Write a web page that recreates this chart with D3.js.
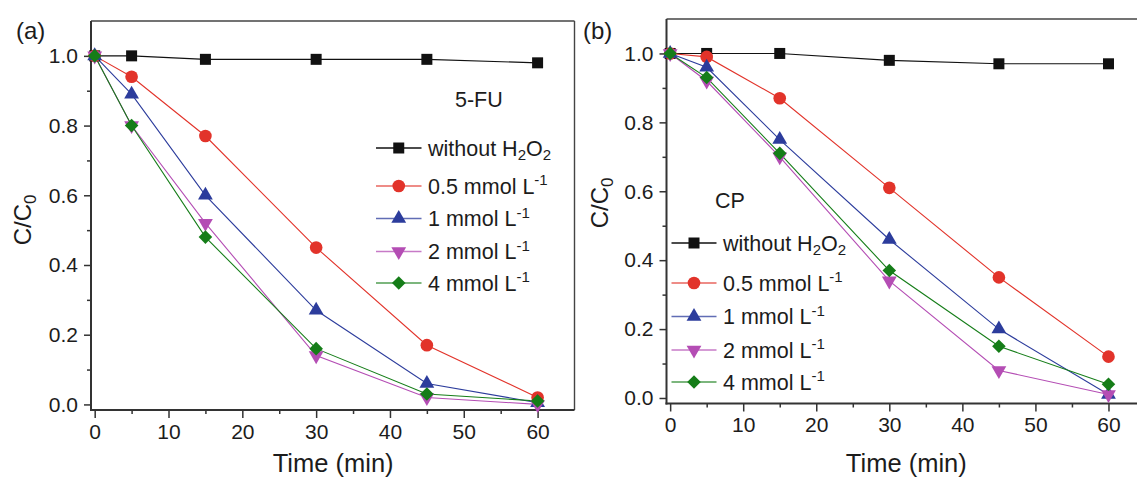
<!DOCTYPE html>
<html>
<head>
<meta charset="utf-8">
<script src="https://cdn.jsdelivr.net/npm/d3@7"></script>
<style>
  body { margin: 0; background: #fff; }
  text { font-family: "Liberation Sans", Arial, sans-serif; fill: #1c1c1c; }
</style>
</head>
<body>
<script>
// datos
const times = [0, 5, 15, 30, 45, 60];

// (a) 5-FU
const fuWithout = [1.0, 1.0, 0.99, 0.99, 0.99, 0.98];
const fu05 = [1.0, 0.94, 0.77, 0.45, 0.17, 0.02];
const fu1 = [1.0, 0.89, 0.60, 0.27, 0.06, 0.005];
const fu2 = [1.0, 0.80, 0.52, 0.14, 0.02, 0.0];
const fu4 = [1.0, 0.80, 0.48, 0.16, 0.03, 0.01];

// (b) CP
const cpWithout = [1.0, 1.0, 1.0, 0.98, 0.97, 0.97];
const cp05 = [1.0, 0.99, 0.87, 0.61, 0.35, 0.12];
const cp1 = [1.0, 0.96, 0.75, 0.46, 0.20, 0.01];
const cp2 = [1.0, 0.92, 0.70, 0.34, 0.08, 0.01];
const cp4 = [1.0, 0.93, 0.71, 0.37, 0.15, 0.04];

// leyenda: trozos de texto [texto, tipo]
const legendLabels = [
  [["without H", ""], ["2", "sub"], ["O", ""], ["2", "sub"]],
  [["0.5 mmol L", ""], ["-1", "sup"]],
  [["1 mmol L", ""], ["-1", "sup"]],
  [["2 mmol L", ""], ["-1", "sup"]],
  [["4 mmol L", ""], ["-1", "sup"]]
];

const xMajor = [0, 10, 20, 30, 40, 50, 60];
const xMinor = [5, 15, 25, 35, 45, 55];
const yMajor = [0, 0.2, 0.4, 0.6, 0.8, 1.0];
const yMinor = [0.1, 0.3, 0.5, 0.7, 0.9];

const colors = ["#111111", "#e2332a", "#2c3c9c", "#b44db4", "#157d18"];
const W = 1137, H = 480;

const svg = d3.select("body").append("svg")
  .attr("width", W)
  .attr("height", H);

// simbolos
function markerPath(i) {
  if (i === 0) return d3.symbol(d3.symbolSquare, 121)();
  if (i === 1) return d3.symbol(d3.symbolCircle, 125)();
  if (i === 2) return d3.symbol(d3.symbolTriangle, 95)();
  if (i === 3) return d3.symbol(d3.symbolTriangle, 95)();
  return d3.symbol(d3.symbolSquare, 92)();
}
function markerRotate(i) {
  if (i === 3) return " rotate(180)";
  if (i === 4) return " rotate(45)";
  return "";
}

function addRich(sel, parts) {
  parts.forEach((p, k) => {
    const t = sel.append("tspan").text(p[0]);
    if (p[1] === "sub") t.attr("font-size", "70%").attr("dy", "0.32em");
    if (p[1] === "sup") t.attr("font-size", "70%").attr("dy", "-0.55em");
    // volver a la linea base despues de un subindice
    if (p[1] === "" && k > 0 && parts[k - 1][1] === "sub") t.attr("dy", "-0.224em");
  });
}

function drawPanel(p) {
  const x = d3.scaleLinear().domain([-0.5, 65]).range([p.left, p.right]);
  const y = d3.scaleLinear().domain([-0.016, 1.1]).range([p.bottom, p.top]);
  const g = svg.append("g");

  // marco
  g.append("line").attr("x1", p.left).attr("x2", p.right).attr("y1", p.top).attr("y2", p.top)
    .attr("stroke", "#444").attr("stroke-width", 1.4);
  g.append("line").attr("x1", p.right).attr("x2", p.right).attr("y1", p.top).attr("y2", p.bottom)
    .attr("stroke", "#444").attr("stroke-width", 1.4);

  // ejes
  const yAx = g.append("g").attr("transform", `translate(${p.left},0)`)
    .call(d3.axisLeft(y).tickValues(yMajor).tickFormat(d3.format(".1f")).tickSize(7).tickPadding(6));
  const yAxMin = g.append("g").attr("transform", `translate(${p.left},0)`)
    .call(d3.axisLeft(y).tickValues(yMinor).tickFormat("").tickSize(4));
  const xAx = g.append("g").attr("transform", `translate(0,${p.bottom})`)
    .call(d3.axisBottom(x).tickValues(xMajor).tickSize(8).tickPadding(6));
  const xAxMin = g.append("g").attr("transform", `translate(0,${p.bottom})`)
    .call(d3.axisBottom(x).tickValues(xMinor).tickFormat("").tickSize(4));
  [yAx, yAxMin, xAx, xAxMin].forEach(a => {
    a.select(".domain").remove();
    a.attr("font-family", null);
    a.selectAll("line").attr("stroke", "#333").attr("stroke-width", 1.5);
    a.selectAll("text").attr("font-size", 21).attr("fill", "#1c1c1c");
  });
  g.append("line").attr("x1", p.left).attr("x2", p.left).attr("y1", p.top).attr("y2", p.bottom + 1)
    .attr("stroke", "#333").attr("stroke-width", 2);
  g.append("line").attr("x1", p.left - 1).attr("x2", p.right).attr("y1", p.bottom).attr("y2", p.bottom)
    .attr("stroke", "#333").attr("stroke-width", 2);

  // series
  const line = d3.line().x((d, i) => x(times[i])).y(d => y(d));
  p.series.forEach((s, i) => {
    g.append("path").datum(s)
      .attr("d", line)
      .attr("fill", "none")
      .attr("stroke", colors[i])
      .attr("stroke-width", 1.1);
  });
  p.series.forEach((s, i) => {
    g.selectAll(null).data(s).enter().append("path")
      .attr("d", markerPath(i))
      .attr("transform", (d, j) => `translate(${x(times[j])},${y(d)})` + markerRotate(i))
      .attr("fill", colors[i]);
  });

  // leyenda
  p.legendRows.forEach((ry, i) => {
    g.append("line")
      .attr("x1", p.legX1).attr("x2", p.legX2).attr("y1", ry).attr("y2", ry)
      .attr("stroke", colors[i]).attr("stroke-width", 1.3).attr("stroke-opacity", i === 0 ? 1 : 0.75);
    g.append("path")
      .attr("d", markerPath(i))
      .attr("transform", `translate(${(p.legX1 + p.legX2) / 2},${ry})` + markerRotate(i))
      .attr("fill", colors[i]);
    const t = g.append("text")
      .attr("x", p.legText).attr("y", ry + 7.5)
      .attr("font-size", 21.5);
    addRich(t, legendLabels[i]);
  });

  // etiquetas
  g.append("text").attr("x", p.nameX).attr("y", p.nameY).attr("font-size", 21.5).text(p.name);
  g.append("text").attr("x", p.tagX).attr("y", 39).attr("font-size", 24).text(p.tag);
  g.append("text")
    .attr("x", (x(0) + x(60)) / 2 + p.xTitleShift).attr("y", 472)
    .attr("text-anchor", "middle").attr("font-size", 25.5)
    .text("Time (min)");
  const yl = g.append("text")
    .attr("transform", `translate(${p.yTitleX},${p.yTitleY}) rotate(-90)`)
    .attr("text-anchor", "middle").attr("font-size", 24);
  addRich(yl, [["C/C", ""], ["0", "sub"]]);
}

drawPanel({
  left: 91, right: 574.5, top: 21, bottom: 410,
  series: [fuWithout, fu05, fu1, fu2, fu4],
  legendRows: [148, 186, 218.5, 251.5, 283],
  legX1: 376, legX2: 421.5, legText: 428,
  name: "5-FU", nameX: 455, nameY: 107,
  tag: "(a)", tagX: 16,
  xTitleShift: 17, yTitleX: 31, yTitleY: 220
});

drawPanel({
  left: 666.5, right: 1145, top: 19, bottom: 403.5,
  series: [cpWithout, cp05, cp1, cp2, cp4],
  legendRows: [243, 283, 316.5, 350, 382],
  legX1: 671.5, legX2: 716.5, legText: 723,
  name: "CP", nameX: 715, nameY: 208,
  tag: "(b)", tagX: 583,
  xTitleShift: 17, yTitleX: 608, yTitleY: 203
});
</script>
</body>
</html>
